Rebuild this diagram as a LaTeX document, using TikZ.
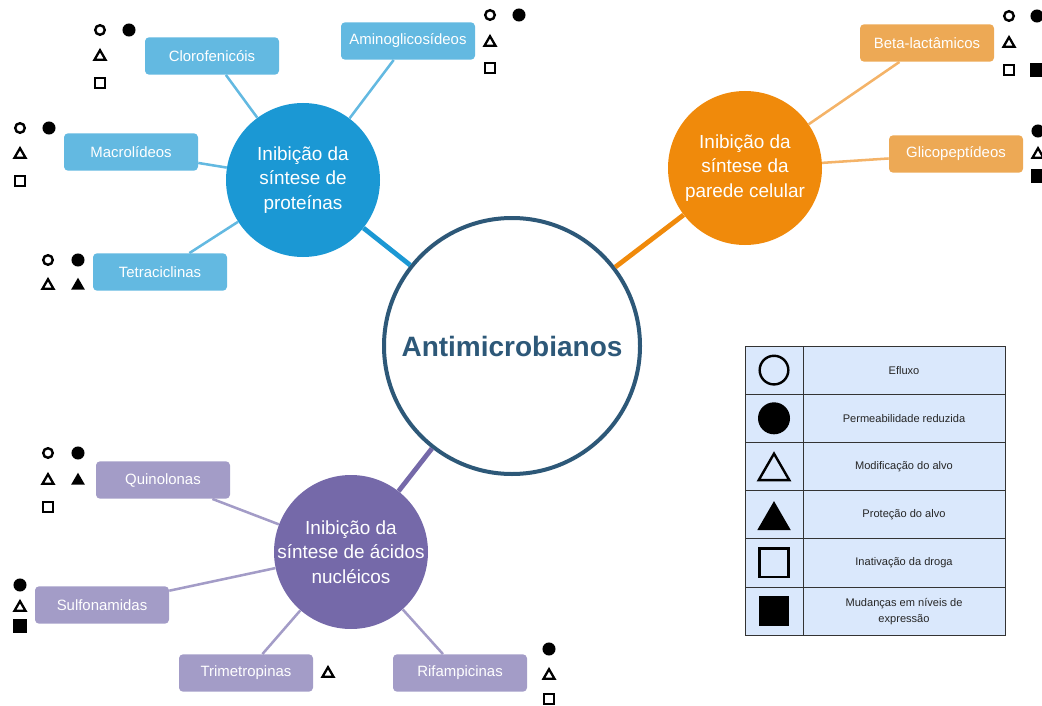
\documentclass[tikz,border=0pt]{standalone}
\usepackage{fontspec}
\setmainfont{Liberation Sans}
\usetikzlibrary{shapes,calc,positioning}
\definecolor{hubcol}{HTML}{2D5878}
\definecolor{protcol}{HTML}{1B98D4}
\definecolor{protlight}{HTML}{63B9E1}
\definecolor{wallcol}{HTML}{F08A0B}
\definecolor{walllight}{HTML}{EDA955}
\definecolor{wallline}{HTML}{F4B368}
\definecolor{nuccol}{HTML}{7569A9}
\definecolor{nuclight}{HTML}{A39CC7}
\definecolor{legfill}{HTML}{DAE8FC}
\tikzstyle{hub}=[circle,draw=hubcol,line width=3pt,fill=white,minimum size=192pt,text=hubcol,font=\fontsize{21}{25}\selectfont\bfseries]
\tikzstyle{group}=[circle,draw=none,minimum size=115.5pt,inner sep=0pt]
\tikzstyle{grouptext}=[align=center,text=white,inner sep=0pt,font=\fontsize{14.2}{18.4}\selectfont]
\tikzstyle{drug}=[rectangle,rounded corners=3pt,draw=none,text=white,minimum width=100.5pt,minimum height=28pt,font=\fontsize{11.2}{13}\selectfont]
\tikzstyle{hubline}=[line width=3.6pt]
\tikzstyle{twig}=[line width=1.9pt]
% small markers
\tikzstyle{efluxo}=[circle,draw=black,line width=1.8pt,minimum size=7.2pt,inner sep=0pt]
\tikzstyle{permeab}=[circle,fill=black,minimum size=9.8pt,inner sep=0pt]
\tikzstyle{modif}=[regular polygon,regular polygon sides=3,draw=black,line width=1.7pt,minimum size=9.6pt,inner sep=0pt,yshift=-1.2pt]
\tikzstyle{protec}=[regular polygon,regular polygon sides=3,fill=black,minimum size=12pt,inner sep=0pt,yshift=-1.3pt]
\tikzstyle{inativ}=[rectangle,draw=black,line width=1.8pt,minimum size=7.2pt,inner sep=0pt]
\tikzstyle{mudanca}=[rectangle,fill=black,minimum size=9.8pt,inner sep=0pt]
% legend
\tikzstyle{legcell}=[rectangle,draw=black!80,line width=0.6pt,fill=legfill,minimum height=36.15pt,inner sep=0pt]
\tikzstyle{legtext}=[legcell,minimum width=151.5pt,align=center,font=\fontsize{8.3}{12}\selectfont,text=black!85]
\tikzstyle{efluxoL}=[efluxo,line width=1.8pt,minimum size=21.5pt]
\tikzstyle{permeabL}=[permeab,minimum size=24pt]
\tikzstyle{modifL}=[modif,line width=1.8pt,minimum size=26.5pt,yshift=-2.4pt]
\tikzstyle{protecL}=[protec,minimum size=29pt,yshift=-3pt]
\tikzstyle{inativL}=[inativ,line width=1.8pt,minimum size=21.5pt]
\tikzstyle{mudancaL}=[mudanca,minimum size=23pt]

\begin{document}
\begin{tikzpicture}[x=0.75pt,y=-0.75pt]
\useasboundingbox (0,0) rectangle (1042,706);

\node[hub] (anti) at (512,346) {Antimicrobianos};

\node[group,fill=protcol] (prot) at (303,180) {};
\node[grouptext] (protT) at (prot) {Inibição da\\síntese de\\proteínas};
\node[group,fill=wallcol] (wall) at (745,168) {};
\node[grouptext] (wallT) at (wall) {Inibição da\\síntese da\\parede celular};
\node[group,fill=nuccol] (nuc) at (351,552) {};
\node[grouptext] (nucT) at (nuc) {Inibição da\\síntese de ácidos\\nucléicos};

\draw[hubline,protcol] (anti) -- (prot);
\draw[hubline,wallcol] (anti) -- (wall);
\draw[hubline,nuccol] (anti) -- (nuc);

\foreach \n/\x/\y/\t in {cloro/212/56/Clorofenicóis, amino/408/41/Aminoglicosídeos,
    macro/131/152/Macrolídeos, tetra/160/272/Tetraciclinas}{
  \node[drug,fill=protlight] (\n) at (\x,\y) {\t};
  \draw[twig,protlight] (\n) -- (prot);
}
\foreach \n/\x/\y/\t in {beta/927/43/Beta-lactâmicos, glico/956/154/Glicopeptídeos}{
  \node[drug,fill=walllight] (\n) at (\x,\y) {\t};
  \draw[twig,wallline] (\n) -- (wall);
}
\foreach \n/\x/\y/\t in {quino/163/480/Quinolonas, sulfo/102/605/Sulfonamidas,
    trime/246/673/Trimetropinas, rifam/460/673/Rifampicinas}{
  \node[drug,fill=nuclight] (\n) at (\x,\y) {\t};
  \draw[twig,nuclight] (\n) -- (nuc);
}

% mechanisms next to each class
\foreach \k/\s/\x/\y in {1/efluxo/100/30, 2/permeab/129/30, 3/modif/100/55, 4/inativ/100/83,
    5/efluxo/490/15, 6/permeab/519/15, 7/modif/490/41, 8/inativ/490/68,
    9/efluxo/20/128, 10/permeab/49/128, 11/modif/20/153, 12/inativ/20/181,
    13/efluxo/48/260, 14/permeab/78/260, 15/modif/48/284, 16/protec/78/284,
    17/efluxo/1009/16, 18/permeab/1037/16, 19/modif/1009/42, 20/inativ/1009/70, 21/mudanca/1037/70,
    22/permeab/1038/131, 23/modif/1038/153, 24/mudanca/1038/176,
    25/efluxo/48/453, 26/permeab/78/453, 27/modif/48/479, 28/protec/78/479, 29/inativ/48/507,
    30/permeab/20/585, 31/modif/20/606, 32/mudanca/20/626,
    33/modif/328/672,
    34/permeab/549/649, 35/modif/549/674, 36/inativ/549/699}
  \node[\s] (m\k) at (\x,\y) {};

% legend
\foreach \i/\s/\t in {1/efluxoL/Efluxo, 2/permeabL/Permeabilidade reduzida,
    3/modifL/Modificação do alvo, 4/protecL/Proteção do alvo,
    5/inativL/Inativação da droga, 6/mudancaL/{Mudanças em níveis de\\expressão}}{
  \node[legcell,minimum width=43.5pt] (ls\i) at (774,{346+48.2*(\i-0.5)}) {};
  \node[legtext] (lt\i) at (904,{346+48.2*(\i-0.5)}) {\t};
  \node[\s] (lm\i) at (ls\i) {};
}
\end{tikzpicture}
\end{document}
